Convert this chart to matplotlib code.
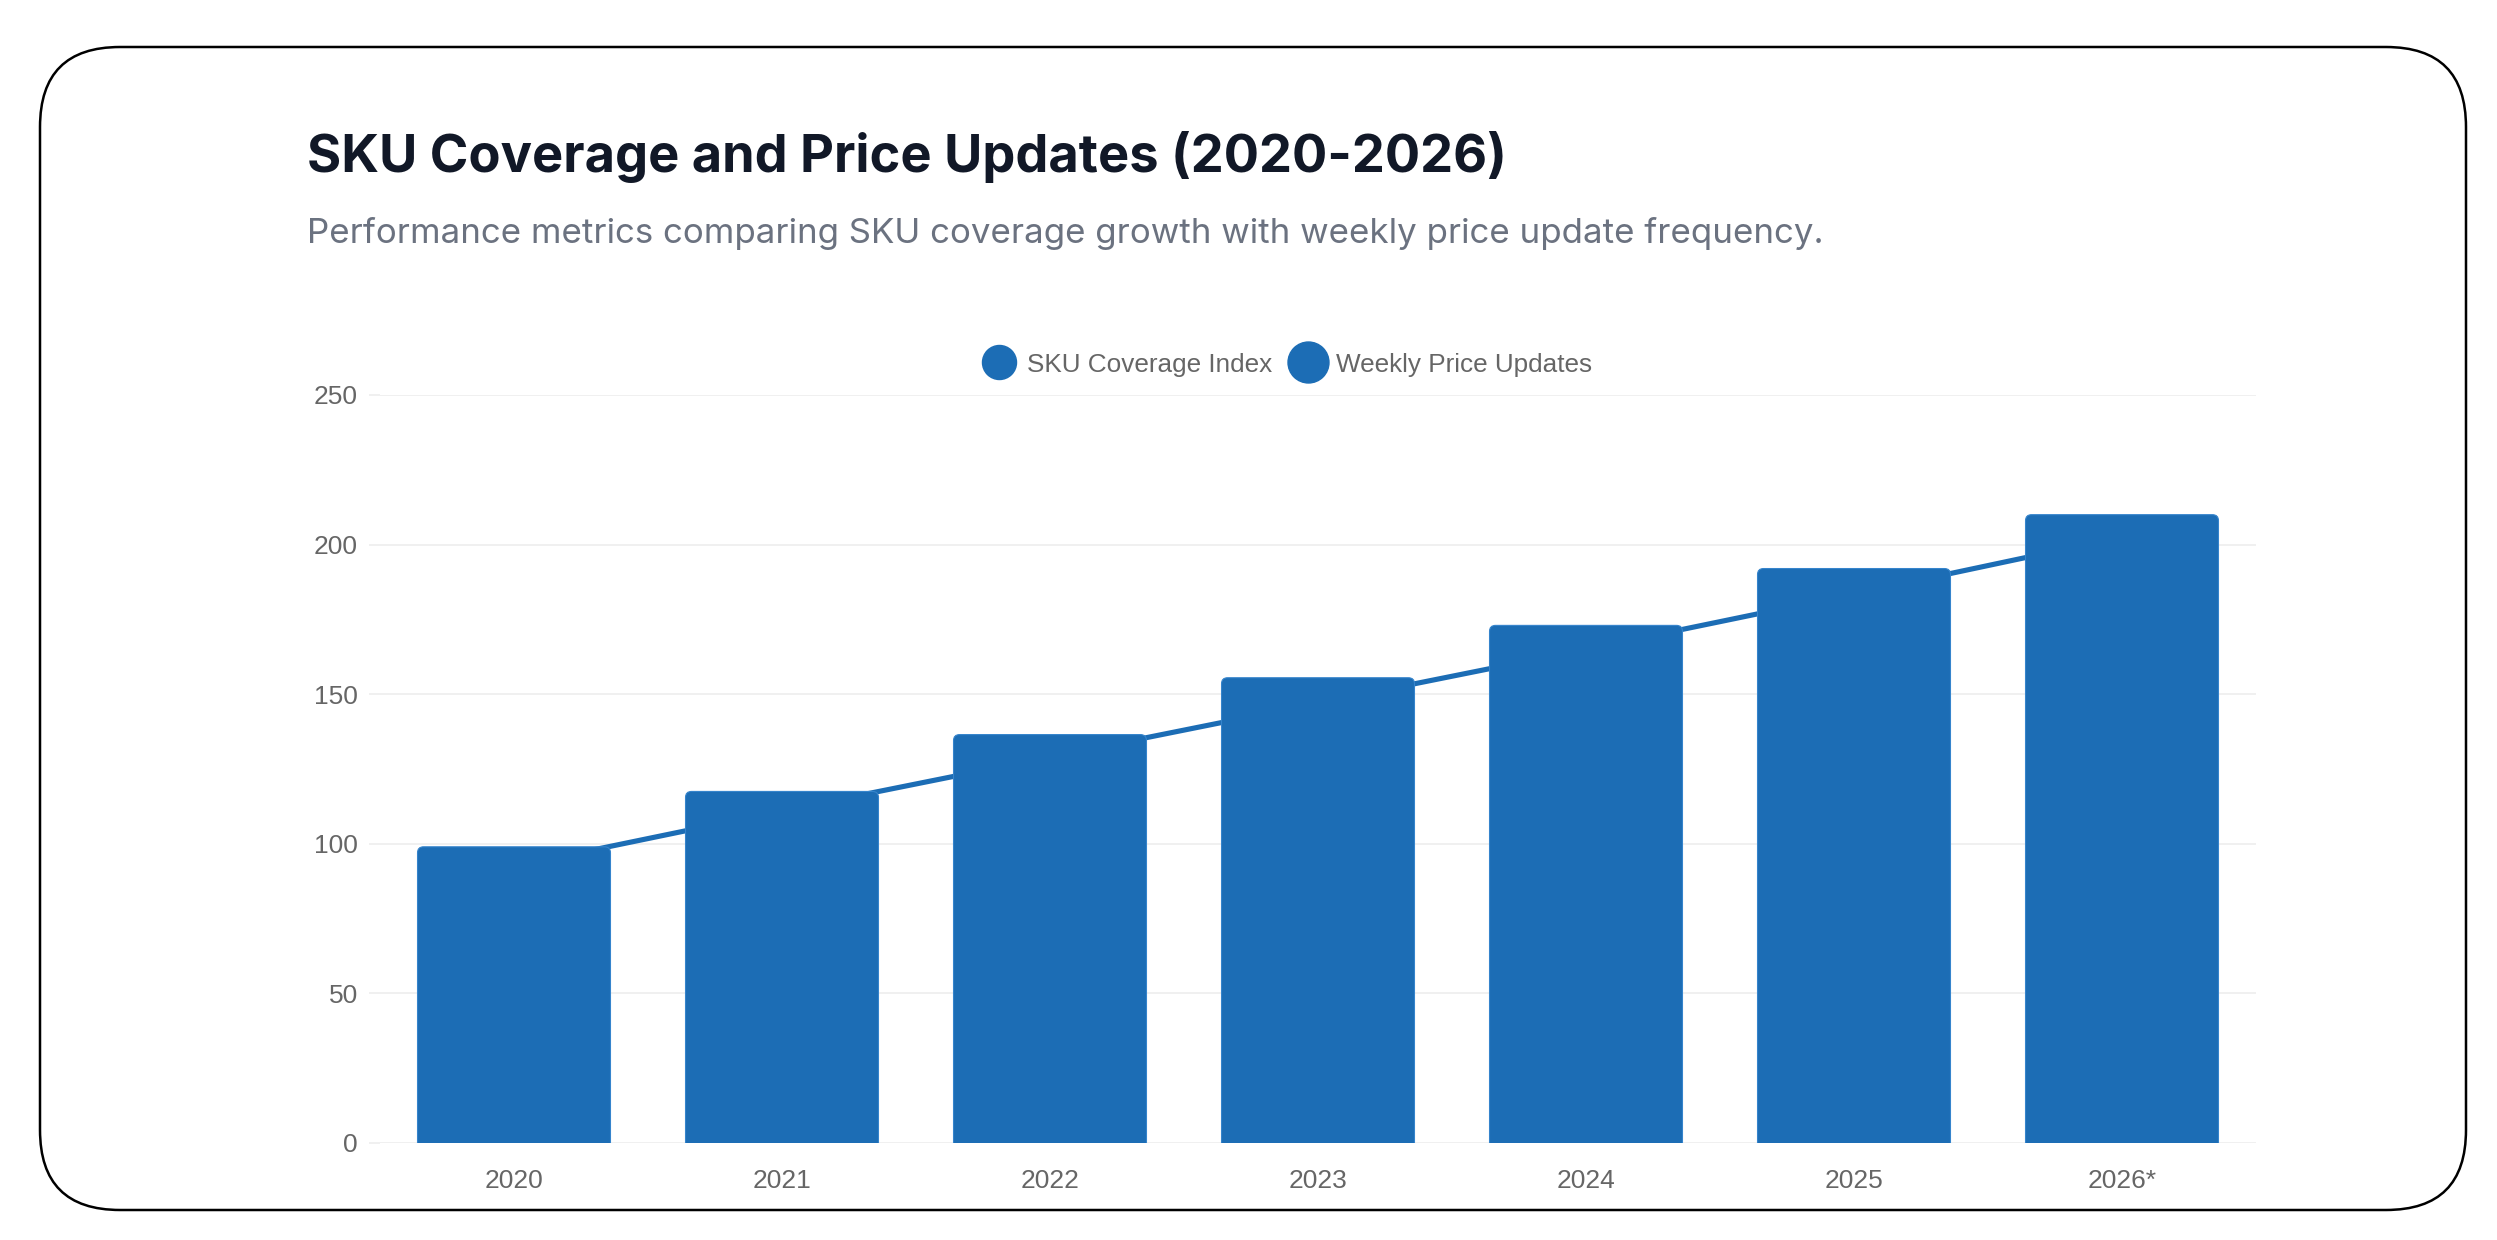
import matplotlib
matplotlib.use("Agg")
import matplotlib.pyplot as plt
from matplotlib.patches import FancyBboxPatch
from matplotlib.lines import Line2D
import numpy as np

# ---- data ----
years = ["2020", "2021", "2022", "2023", "2024", "2025", "2026*"]
sku_coverage = [99, 117.5, 136.5, 155.5, 173, 192, 210]
price_updates = [92.5, 111, 129, 147, 165, 183.5, 202.5]
series_names = ["SKU Coverage Index", "Weekly Price Updates"]
y_ticks = [0, 50, 100, 150, 200, 250]
title = "SKU Coverage and Price Updates (2020-2026)"
subtitle = "Performance metrics comparing SKU coverage growth with weekly price update frequency."

W, H = 2497, 1240
DPI = 100
BLUE = "#1c6db5"
GRID = "#ececec"
TICK = "#666666"

fig = plt.figure(figsize=(W / DPI, H / DPI), dpi=DPI)
fig.patch.set_facecolor("white")

# card background with rounded border (pixel coordinates)
bg = fig.add_axes([0, 0, 1, 1], zorder=0)
bg.set_xlim(0, W)
bg.set_ylim(H, 0)
bg.axis("off")
bg.add_patch(FancyBboxPatch((40, 47), 2426, 1163,
                            boxstyle="round,pad=0,rounding_size=80",
                            facecolor="white", edgecolor="black", linewidth=1.8))

# titles
fig.text(307 / W, 1 - 172 / H, title, fontfamily="Inter", fontweight="bold",
         fontsize=37.7, color="#111827", ha="left", va="baseline")
fig.text(307 / W, 1 - 243 / H, subtitle, fontfamily="Inter",
         fontsize=25.1, color="#6b7280", ha="left", va="baseline")

# main chart axes
ax_l, ax_r, ax_t, ax_b = 380, 2256, 395, 1143
ax = fig.add_axes([ax_l / W, 1 - ax_b / H, (ax_r - ax_l) / W, (ax_b - ax_t) / H], zorder=2)
ax.set_facecolor("none")
x = np.arange(len(years))
ax.set_xlim(-0.5, len(years) - 0.5)
ax.set_ylim(0, 250)

# line (behind bars)
ax.plot(x, price_updates, color=BLUE, linewidth=3.7, zorder=2, solid_capstyle="round")

# bars with small rounded top corners
bars = ax.bar(x, sku_coverage, width=0.72, color=BLUE, zorder=3)
px_per_x = ax.transData.transform((1, 0))[0] - ax.transData.transform((0, 0))[0]
px_per_y = ax.transData.transform((0, 1))[1] - ax.transData.transform((0, 0))[1]
r_px = 6
r_x = r_px / px_per_x
aspect = px_per_x / px_per_y
for b in bars:
    x0, w, h = b.get_x(), b.get_width(), b.get_height()
    extra = 2 * r_px / px_per_y
    p = FancyBboxPatch((x0, -extra), w, h + extra,
                       boxstyle=f"round,pad=0,rounding_size={r_x}",
                       mutation_aspect=aspect, facecolor=BLUE,
                       edgecolor="#3584cc", linewidth=0.8, zorder=3)
    p.set_clip_path(ax.patch)
    ax.add_patch(p)
    b.set_visible(False)

# axes styling
for s in ax.spines.values():
    s.set_visible(False)
ax.set_yticks(y_ticks)
ax.set_yticklabels([str(t) for t in y_ticks])
ax.set_xticks(x)
ax.set_xticklabels(years)
ax.yaxis.grid(True, color=GRID, linewidth=1.1, zorder=0)
ax.set_axisbelow(True)
ax.tick_params(axis="y", length=8, width=1.1, color=GRID, pad=8, labelsize=19,
               labelcolor=TICK)
ax.tick_params(axis="x", length=0, pad=19, labelsize=19, labelcolor=TICK)
for lab in ax.get_xticklabels() + ax.get_yticklabels():
    lab.set_fontfamily("Liberation Sans")

# legend (manual, centered above the plot)
leg_y = 1 - 362 / H
leg_items = [(999, 1027, 24.5), (1308, 1336, 29.5)]
for (cx, tx, ms), name in zip(leg_items, series_names):
    fig.add_artist(Line2D([cx / W], [leg_y], marker="o", markersize=ms,
                          color=BLUE, linestyle="none", transform=fig.transFigure))
    fig.text(tx / W, leg_y, name, fontfamily="Liberation Sans", fontsize=18.8,
             color=TICK, ha="left", va="center_baseline")

fig.savefig("out.png", dpi=DPI, facecolor="white")
